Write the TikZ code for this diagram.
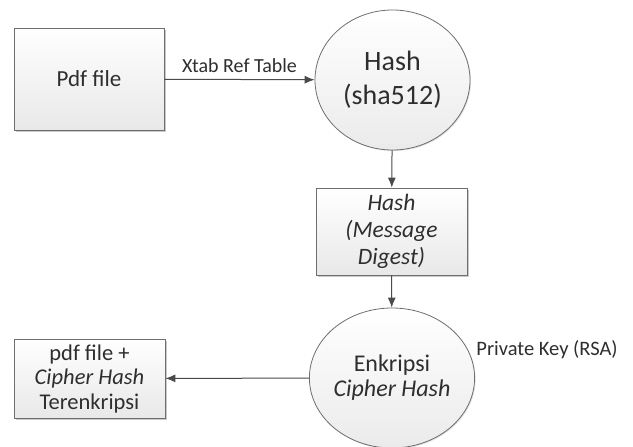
\documentclass[tikz,border=0pt]{standalone}
\usepackage{fontspec}
\setmainfont{Carlito}
\usetikzlibrary{shapes.geometric,arrows.meta,shadows}
\definecolor{strk}{HTML}{6E6E6E}
\definecolor{txt}{HTML}{2E2E2E}
\definecolor{arr}{HTML}{4A4A4A}
\tikzset{
  box/.style={draw=strk, line width=0.8pt, rectangle, align=center, text=txt,
    top color=white, bottom color=black!9, inner sep=0pt,
    drop shadow={shadow xshift=1.5pt, shadow yshift=-1.5pt, fill=black!35, opacity=0.6}},
  proc/.style={draw=strk, line width=0.8pt, ellipse, align=center, text=txt,
    top color=white, bottom color=black!8, inner sep=0pt,
    drop shadow={shadow xshift=1pt, shadow yshift=-1pt, fill=black!25, opacity=0.5}},
  flow/.style={draw=arr, line width=1pt, -{Latex[length=10pt,width=8pt]}},
  lbl/.style={text=txt, inner sep=0pt}
}
\begin{document}
\begin{tikzpicture}[x=1pt,y=-1pt]
\useasboundingbox (0,0) rectangle (633,447);
\node[box, minimum width=150pt, minimum height=102pt, font=\fontsize{23}{27}\selectfont] (pdf) at (89,79) {Pdf file};
\node[proc, minimum width=155pt, minimum height=140pt, font=\fontsize{28}{34}\selectfont] (hash) at (392.5,80) {Hash\\(sha512)};
\node[box, minimum width=151pt, minimum height=87pt, font=\fontsize{23.5}{27}\selectfont\itshape] (md) at (391.5,231.5) {Hash\\(Message\\Digest)};
\node[proc, minimum width=154pt, minimum height=140pt, font=\fontsize{24}{25}\selectfont] (enk) at (392,378) {Enkripsi\\\textit{Cipher Hash}};
\node[box, minimum width=151pt, minimum height=79pt, font=\fontsize{22.5}{24.5}\selectfont] (out) at (89.5,378.5) {pdf file +\\\textit{Cipher Hash}\\Terenkripsi};
\draw[flow] (pdf) -- node[lbl, above=6pt, font=\fontsize{20}{22}\selectfont] {Xtab Ref Table} (hash);
\draw[flow] (hash) -- (md);
\draw[flow] (md) -- (enk);
\draw[flow] (enk) -- (out);
\node[lbl, font=\fontsize{20.5}{22}\selectfont] (pk) at (547,350) {Private Key (RSA)};
\end{tikzpicture}
\end{document}
